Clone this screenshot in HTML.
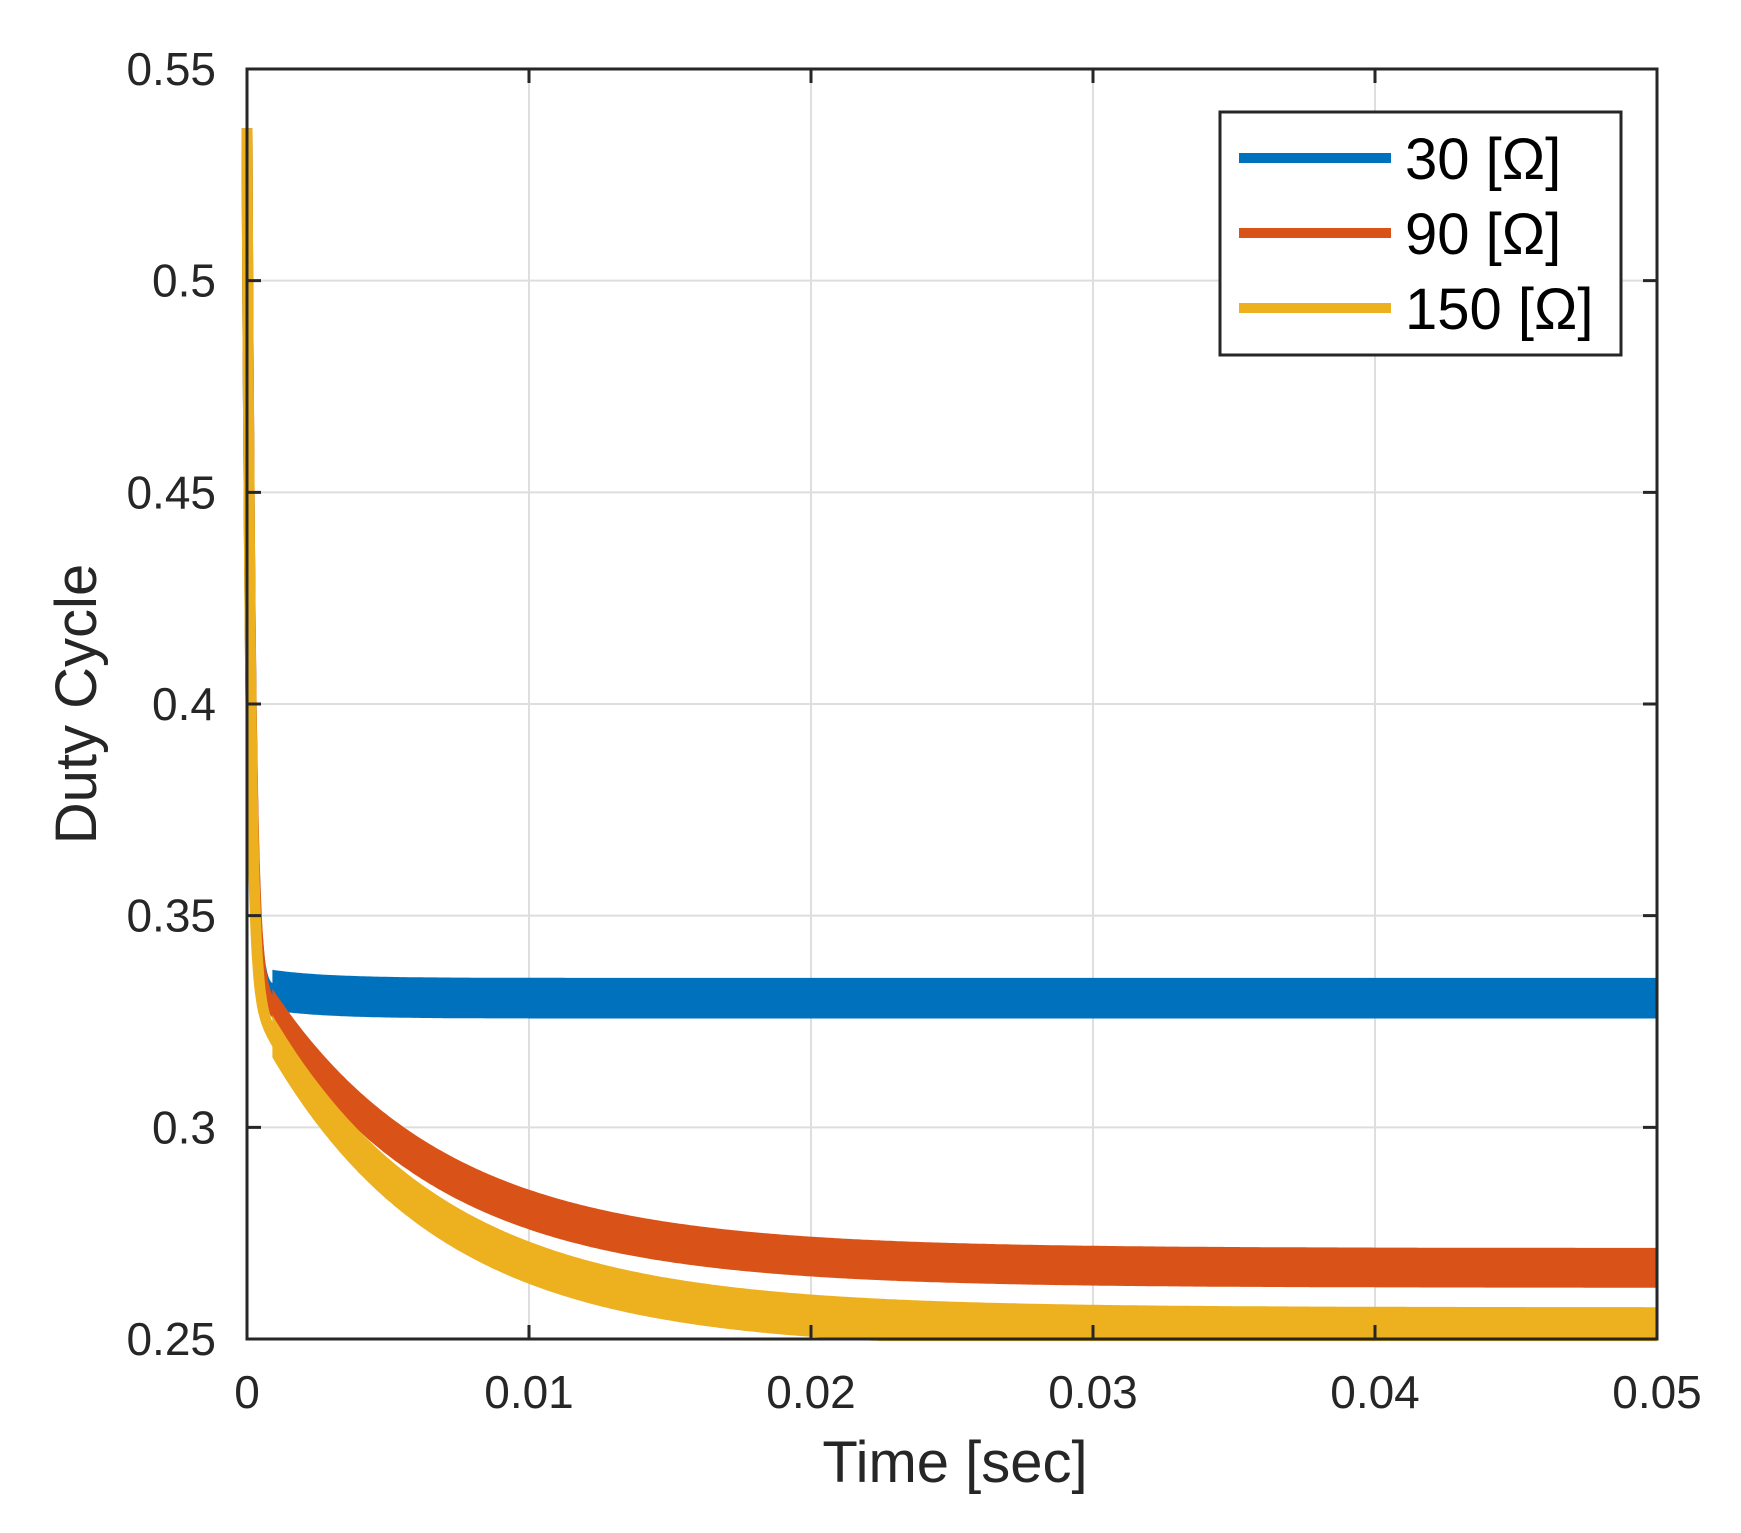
<!DOCTYPE html>
<html><head><meta charset="utf-8"><style>
html,body{margin:0;padding:0;background:#fff;}
svg{display:block;}
text{font-family:"Liberation Sans",sans-serif;fill:#262626;}
</style></head><body>
<svg id="s" width="1741" height="1533" xmlns="http://www.w3.org/2000/svg">
<rect width="1741" height="1533" fill="#fff"/>
<g id="grid" stroke="#dedede" stroke-width="2"></g>
<g id="series"></g>
<g id="axes" stroke="#262626" stroke-width="3" fill="none"></g>
<g id="labels"></g>
<text x="955" y="1482" font-size="58" text-anchor="middle">Time [sec]</text>
<text transform="translate(96,704) rotate(-90)" font-size="58" text-anchor="middle">Duty Cycle</text>
<rect x="1220" y="112" width="401" height="243" fill="#fff" stroke="#262626" stroke-width="3"/>
<line x1="1239" y1="158" x2="1391" y2="158" stroke="#0072BD" stroke-width="10"/>
<line x1="1239" y1="233" x2="1391" y2="233" stroke="#D95319" stroke-width="10"/>
<line x1="1239" y1="308" x2="1391" y2="308" stroke="#EDB120" stroke-width="10"/>
<text x="1405" y="179" font-size="58" style="fill:#000">30 [Ω]</text>
<text x="1405" y="254" font-size="58" style="fill:#000">90 [Ω]</text>
<text x="1405" y="329" font-size="58" style="fill:#000">150 [Ω]</text>
</svg>
<script>
var L=247,R=1657,T=69,B=1339;
function X(t){return L+(R-L)*t/0.05;}
function Y(v){return B-(B-T)*(v-0.25)/0.3;}
var ns="http://www.w3.org/2000/svg";
function el(p,tag,a,txt){var e=document.createElementNS(ns,tag);for(var k in a)e.setAttribute(k,a[k]);if(txt!=null)e.textContent=txt;document.getElementById(p).appendChild(e);return e;}
for(var i=0;i<=5;i++){var x=X(i*0.01);
 if(i>0&&i<5)el("grid","line",{x1:x,y1:T,x2:x,y2:B});
 el("labels","text",{x:x,y:1408,"font-size":46,"text-anchor":"middle"},i==0?"0":"0.0"+i);
}
var yl=["0.25","0.3","0.35","0.4","0.45","0.5","0.55"];
for(var j=0;j<=6;j++){var v=0.25+j*0.05,y=Y(v);
 if(j>0&&j<6)el("grid","line",{x1:L,y1:y,x2:R,y2:y});
 el("labels","text",{x:216,y:y+16,"font-size":46,"text-anchor":"end"},yl[j]);
}
var ad="M"+L+" "+T+"H"+R+"V"+B+"H"+L+"Z";
for(var i=1;i<5;i++){var x=X(i*0.01);ad+="M"+x+" "+B+"v-14M"+x+" "+T+"v14";}
for(var j=1;j<6;j++){var y=Y(0.25+j*0.05);ad+="M"+L+" "+y+"h14M"+R+" "+y+"h-14";}
el("axes","path",{d:ad});
function spike(t,end){return end+(0.536-end)*Math.exp(-t/0.00013);}
var S=[
 {c:"#0072BD",f:function(t){return 0.3305+0.003*Math.exp(-t/0.002);},h:0.0048},
 {c:"#D95319",f:function(t){return 0.2668+0.071*Math.exp(-t/0.0061);},h:0.0047},
 {c:"#EDB120",f:function(t){return 0.2525+0.08*Math.exp(-t/0.0061);},h:0.005}
];
S.forEach(function(s){
 var up=[],dn=[];
 for(var k=0;k<=500;k++){var t=0.0009+k*(0.05-0.0009)/500;var c=s.f(t);
  up.push(X(t).toFixed(1)+","+Y(Math.min(c+s.h,0.55)).toFixed(1));
  dn.push(X(t).toFixed(1)+","+Y(Math.max(c-s.h,0.2495)).toFixed(1));}
 el("series","polygon",{points:up.concat(dn.reverse()).join(" "),fill:s.c});
 var sp=[];
 for(var k=0;k<=60;k++){var t=k*0.0011/60;var end=s.f(t);sp.push(X(t).toFixed(1)+","+Y(spike(t,end)).toFixed(1));}
 el("series","polyline",{points:sp.join(" "),fill:"none",stroke:s.c,"stroke-width":11,"stroke-linejoin":"round"});
});
</script>
</body></html>
